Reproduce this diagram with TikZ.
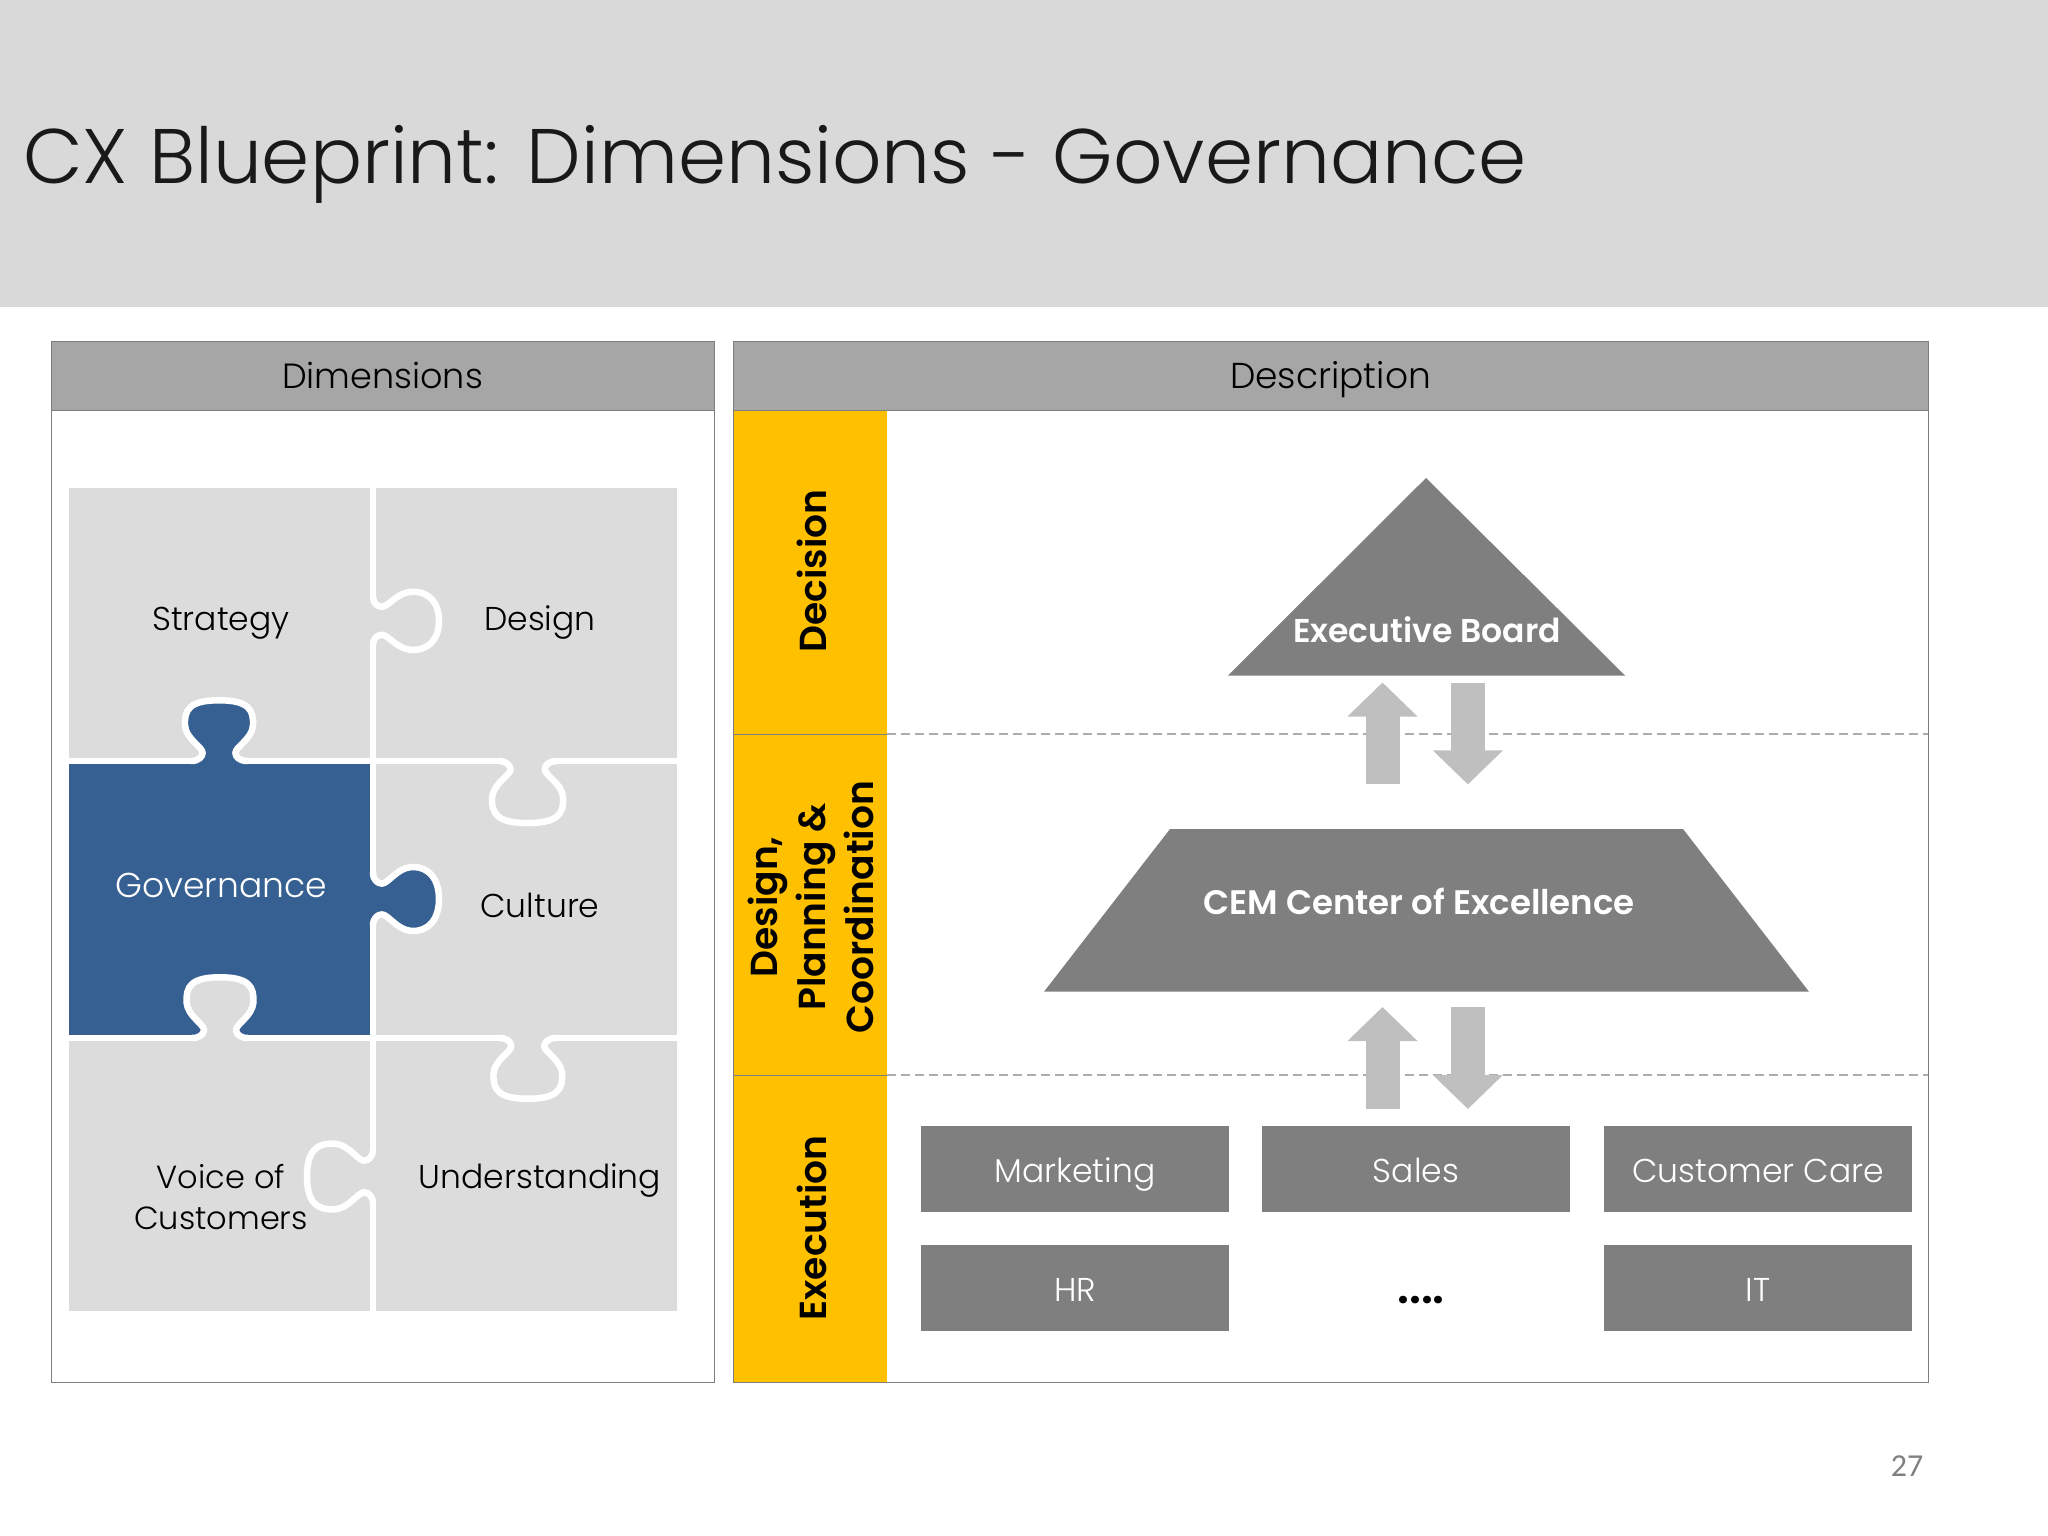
\documentclass[tikz,border=0pt]{standalone}
\usepackage{fontspec}
\setmainfont{Poppins}[UprightFont=* Light,BoldFont=* SemiBold]
\newfontfamily\pagefont{Carlito}
\usetikzlibrary{arrows.meta}
\definecolor{band}{HTML}{D9D9D9}
\definecolor{headbar}{HTML}{A6A6A6}
\definecolor{frameline}{HTML}{7F7F7F}
\definecolor{piece}{HTML}{DCDCDD}
\definecolor{govblue}{HTML}{376092}
\definecolor{level}{HTML}{FFC000}
\definecolor{unit}{HTML}{7F7F7F}
\definecolor{flow}{HTML}{BFBFBF}
\definecolor{rulegray}{HTML}{ADADAD}
\newcommand{\fs}[2]{\fontsize{#1}{#2}\selectfont}
\tikzset{
  head/.style={draw=frameline,line width=1pt,fill=headbar,minimum height=69pt,inner sep=0pt,text height=34pt,text depth=8pt,font=\fs{36}{40}},
  pane/.style={draw=frameline,line width=1pt},
  word/.style={inner sep=0pt,align=center,font=\fs{33}{41}},
  levelline/.style={draw=frameline,line width=.8pt},
  levelword/.style={inner sep=0pt,rotate=90,align=center,font=\fs{37.6}{48}\bfseries},
  unitbox/.style={fill=unit,text=white,inner sep=0pt,minimum width=308pt,minimum height=86pt,text height=33pt,text depth=7pt,font=\fs{33}{40}},
  shapeword/.style={inner sep=0pt,text=white,font=\fs{33}{40}\bfseries},
  seam/.style={draw=white,line width=6.5pt,line cap=round,line join=round},
  levelrule/.style={draw=rulegray,line width=1.4pt,dash pattern=on 9pt off 5pt},
  flowline/.style={draw=flow,line width=34pt,-{Triangle[length=34pt,width=68pt]}},
  pics/knob/.style={code={
    \path[pic actions] (0,-24) .. controls (0,-17) and (5,-14) .. (9,-14)
      .. controls (15,-14) and (24,-28) .. (38,-29)
      .. controls (56,-30) and (66,-#1) .. (66,0)
      .. controls (66,#1) and (56,30) .. (38,29)
      .. controls (24,28) and (15,14) .. (9,14)
      .. controls (5,14) and (0,17) .. (0,24);
  }},
  pics/knob/.default=18
}
\begin{document}
\begin{tikzpicture}[x=1pt,y=-1pt]
  \useasboundingbox (0,0) rectangle (2048,1536);
  \fill[band] (0,0) rectangle (2048,307);
  \node[anchor=west,inner sep=0pt,text=black!90,font=\fs{77.3}{90}] (title) at (23,164) {CX Blueprint: Dimensions - Governance};

  % left pane
  \draw[pane] (51,341) rectangle (714,1382);
  \node[head,minimum width=663pt,font=\fs{35}{40}] (dimhead) at (382.5,375.5) {Dimensions};
  \fill[piece] (69,488) rectangle (676.5,1311);
  \fill[govblue] (69,761) rectangle (373,1038);
  \pic[fill=govblue,rotate=90,xscale=.92,yscale=1.17] at (219,761) {knob=25};
  \pic[fill=govblue,xscale=1,yscale=1.1] at (373,899) {knob};
  \pic[fill=piece,rotate=90,xscale=.92,yscale=1.15] at (220,1038) {knob=25};
  % seams
  \draw[seam] (373,488) -- (373,596.8);
  \draw[seam] (373,644.8) -- (373,872.6);
  \draw[seam] (373,925.4) -- (373,1149.3);
  \draw[seam] (373,1203.7) -- (373,1311);
  \draw[seam] (69,761) -- (191,761);
  \draw[seam] (247,761) -- (501,761);
  \draw[seam] (554,761) -- (676.5,761);
  \draw[seam] (69,1038) -- (192.4,1038);
  \draw[seam] (247.6,1038) -- (502,1038);
  \draw[seam] (553.6,1038) -- (676.5,1038);
  \pic[seam] at (373,620.8) {knob};
  \pic[seam,rotate=90,xscale=.92,yscale=1.17] at (219,761) {knob=25};
  \pic[seam,rotate=-90,xscale=.94,yscale=1.22] at (527.6,761) {knob=25};
  \pic[seam,yscale=1.1] at (373,899) {knob};
  \pic[seam,rotate=90,xscale=.92,yscale=1.15] at (220,1038) {knob=25};
  \pic[seam,rotate=-90,xscale=.92,yscale=1.18] at (527.8,1038) {knob=25};
  \pic[seam,rotate=180,yscale=1.13] at (373,1176.5) {knob=23};
  \node[word] (strategy) at (221,623) {Strategy};
  \node[word] (design) at (540,623) {Design};
  \node[word,text=white,font=\fs{34.5}{41}] (governance) at (221,885.5) {Governance};
  \node[word] (culture) at (540,905) {Culture};
  \node[word,font=\fs{32}{41}] (voice) at (221,1197) {Voice of\\Customers};
  \node[word] (understanding) at (540,1181) {Understanding};

  % right pane
  \fill[level] (733,410) rectangle (887,1382);
  \draw[levelline] (733,734) -- (887,734);
  \draw[levelline] (733,1075) -- (887,1075);
  \draw[pane] (733,341) rectangle (1928,1382);
  \node[head,minimum width=1195pt] (deschead) at (1330.5,375.5) {Description};
  \node[levelword] (decision) at (812,571) {Decision};
  \node[levelword] (planning) at (811,907) {Design,\\Planning \&\\Coordination};
  \node[levelword] (execution) at (812,1228) {Execution};
  \draw[levelrule] (887,734) -- (1928,734);
  \draw[levelrule] (887,1075) -- (1928,1075);

  \fill[unit] (1426,478) -- (1625,675.5) -- (1228,675.5) -- cycle;
  \fill[unit] (1170,829) -- (1683,829) -- (1809,991.7) -- (1044,991.7) -- cycle;
  \node[shapeword] (board) at (1427,629.5) {Executive Board};
  \node[shapeword,font=\fs{34}{40}\bfseries] (cem) at (1419,901) {CEM Center of Excellence};

  \node[unitbox] (marketing) at (1075,1169) {Marketing};
  \node[unitbox] (sales) at (1416,1169) {Sales};
  \node[unitbox] (care) at (1758,1169) {Customer Care};
  \node[unitbox] (hr) at (1075,1288) {HR};
  \node[inner sep=0pt,font=\fs{46}{46}\bfseries] (dots) at (1421,1300) {....};
  \node[unitbox] (it) at (1758,1288) {IT};

  % block arrows
  \coordinate (upAfoot) at (1382.5,784.4);
  \coordinate (upAtip) at (1382.5,682.5);
  \coordinate (downAtop) at (1467.9,682.5);
  \coordinate (downAtip) at (1467.9,784.4);
  \coordinate (upBfoot) at (1382.5,1109);
  \coordinate (upBtip) at (1382.5,1007);
  \coordinate (downBtop) at (1467.9,1007);
  \coordinate (downBtip) at (1467.9,1109);
  \draw[flowline] (upAfoot) -- (upAtip);
  \draw[flowline] (downAtop) -- (downAtip);
  \draw[flowline] (upBfoot) -- (upBtip);
  \draw[flowline] (downBtop) -- (downBtip);

  \node[inner sep=0pt,text=black!50,font=\pagefont\fs{32}{32}] (pagenum) at (1907,1466) {27};
\end{tikzpicture}
\end{document}
